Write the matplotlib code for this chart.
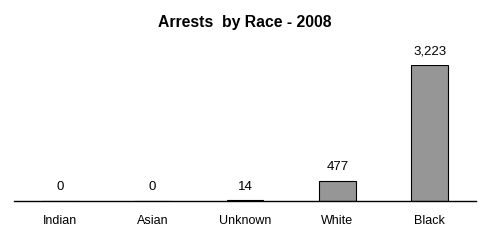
import matplotlib.pyplot as plt

plt.rcParams['font.family'] = ['Liberation Sans', 'DejaVu Sans']

races = ["Indian", "Asian", "Unknown", "White", "Black"]
arrests = [0, 0, 14, 477, 3223]

fig = plt.figure(figsize=(4.89, 2.45), dpi=100)
ax = fig.add_axes([14 / 489, 44 / 245, 462 / 489, 136 / 245])

x = range(len(races))
ax.bar(x, arrests, width=0.4, color="#969696", edgecolor="black", linewidth=0.8)

for xi, v in zip(x, arrests):
    ax.annotate("{:,}".format(v), (xi, v), xytext=(0, 5.5), textcoords="offset points",
                ha="center", va="bottom", fontsize=9.5, annotation_clip=False)

ax.set_xlim(-0.5, len(races) - 0.5)
ax.set_ylim(0, 3223)
ax.set_xticks(list(x))
ax.set_xticklabels(races, fontsize=9)
ax.tick_params(axis="x", length=0, pad=10)
ax.set_yticks([])
for s in ["top", "left", "right"]:
    ax.spines[s].set_visible(False)
ax.spines["bottom"].set_linewidth(1)

fig.text(0.5, 1 - 22 / 245, "Arrests  by Race - 2008", ha="center", va="center",
         fontsize=11.3, fontweight="bold")

plt.savefig("out.png", dpi=100)
